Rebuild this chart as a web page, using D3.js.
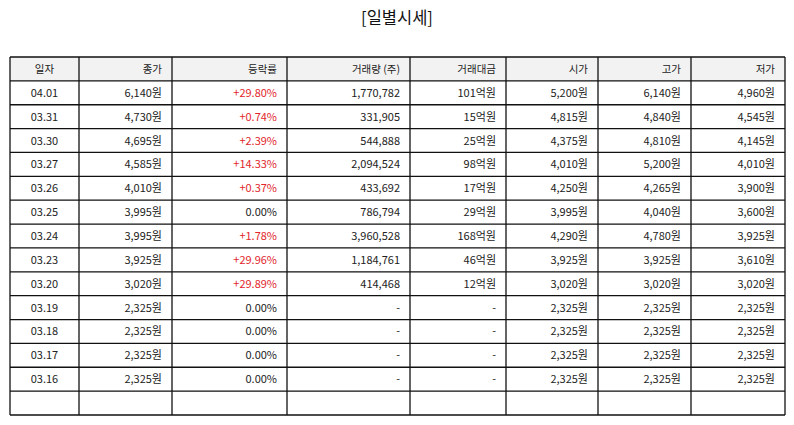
<!DOCTYPE html>
<html>
<head>
<meta charset="utf-8">
<script src="https://cdn.jsdelivr.net/npm/d3@7.9.0/dist/d3.min.js"></script>
<style>
  body { margin: 0; background: #fff; }
  svg text { font-family: "Noto Sans CJK KR", "Noto Sans", sans-serif; }
</style>
</head>
<body>
<svg id="chart" width="794" height="425"></svg>
<script>
const headers = ['일자', '종가', '등락률', '거래량 (주)', '거래대금', '시가', '고가', '저가'];
const dates = ['04.01', '03.31', '03.30', '03.27', '03.26', '03.25', '03.24', '03.23', '03.20', '03.19', '03.18', '03.17', '03.16'];
const closes = [6140, 4730, 4695, 4585, 4010, 3995, 3995, 3925, 3020, 2325, 2325, 2325, 2325];
const changes = [29.80, 0.74, 2.39, 14.33, 0.37, 0.00, 1.78, 29.96, 29.89, 0.00, 0.00, 0.00, 0.00];
const volumes = [1770782, 331905, 544888, 2094524, 433692, 786794, 3960528, 1184761, 414468, null, null, null, null];
const amounts = [101, 15, 25, 98, 17, 29, 168, 46, 12, null, null, null, null]; // 억원
const opens = [5200, 4815, 4375, 4010, 4250, 3995, 4290, 3925, 3020, 2325, 2325, 2325, 2325];
const highs = [6140, 4840, 4810, 5200, 4265, 4040, 4780, 3925, 3020, 2325, 2325, 2325, 2325];
const lows = [4960, 4545, 4145, 4010, 3900, 3600, 3925, 3610, 3020, 2325, 2325, 2325, 2325];

// column edges of the table
const colEdges = [10, 79, 172, 287, 410, 506, 598, 691, 785];

const svg = d3.select('#chart');
const fmt = d3.format(',');
const won = v => fmt(v) + '원';

const rows = dates.map((d, i) => ({
  cells: [
    d,
    won(closes[i]),
    changes[i] > 0 ? '+' + changes[i].toFixed(2) + '%' : changes[i].toFixed(2) + '%',
    volumes[i] == null ? '-' : fmt(volumes[i]),
    amounts[i] == null ? '-' : amounts[i] + '억원',
    won(opens[i]),
    won(highs[i]),
    won(lows[i])
  ],
  up: changes[i] > 0
}));
rows.push({ cells: ['', '', '', '', '', '', '', ''], up: false }); // empty last row

const y = d3.scaleBand()
  .domain(d3.range(rows.length + 1))
  .range([57, 415]);

svg.append('text')
  .attr('x', 397).attr('y', 24)
  .attr('text-anchor', 'middle')
  .attr('font-size', 16.5)
  .attr('fill', '#111')
  .text('[일별시세]');

// header background
svg.append('rect')
  .attr('x', colEdges[0]).attr('y', y(0))
  .attr('width', colEdges[8] - colEdges[0]).attr('height', y.bandwidth())
  .attr('fill', '#f2f2f2');

function cellX(j) {
  return j === 0 ? (colEdges[0] + colEdges[1]) / 2 : colEdges[j + 1] - 10;
}

// header text
svg.append('g').selectAll('text')
  .data(headers)
  .join('text')
  .attr('x', (d, j) => cellX(j))
  .attr('y', y(0) + y.bandwidth() / 2 + 4)
  .attr('text-anchor', (d, j) => j === 0 ? 'middle' : 'end')
  .attr('font-size', 10.5)
  .attr('fill', '#222')
  .text(d => d);

// body
const rowG = svg.append('g').selectAll('g')
  .data(rows)
  .join('g')
  .attr('transform', (d, i) => `translate(0,${y(i + 1)})`);

rowG.selectAll('text')
  .data(d => d.cells.map((c, j) => ({ c, j, up: d.up })))
  .join('text')
  .attr('x', d => cellX(d.j))
  .attr('y', y.bandwidth() / 2 + 4)
  .attr('text-anchor', d => d.j === 0 ? 'middle' : 'end')
  .attr('font-size', 11)
  .attr('fill', d => d.j === 2 && d.up ? '#e2262b' : '#222')
  .text(d => d.c);

// grid lines
const grid = svg.append('g').attr('stroke', '#111').attr('stroke-width', 1.3);
grid.selectAll('line.h')
  .data(d3.range(rows.length + 2))
  .join('line')
  .attr('class', 'h')
  .attr('x1', colEdges[0]).attr('x2', colEdges[8])
  .attr('y1', i => i <= rows.length ? y(i) : y(rows.length) + y.bandwidth())
  .attr('y2', i => i <= rows.length ? y(i) : y(rows.length) + y.bandwidth());
grid.selectAll('line.v')
  .data(colEdges)
  .join('line')
  .attr('class', 'v')
  .attr('x1', d => d).attr('x2', d => d)
  .attr('y1', y(0)).attr('y2', y(rows.length) + y.bandwidth());
</script>
</body>
</html>
